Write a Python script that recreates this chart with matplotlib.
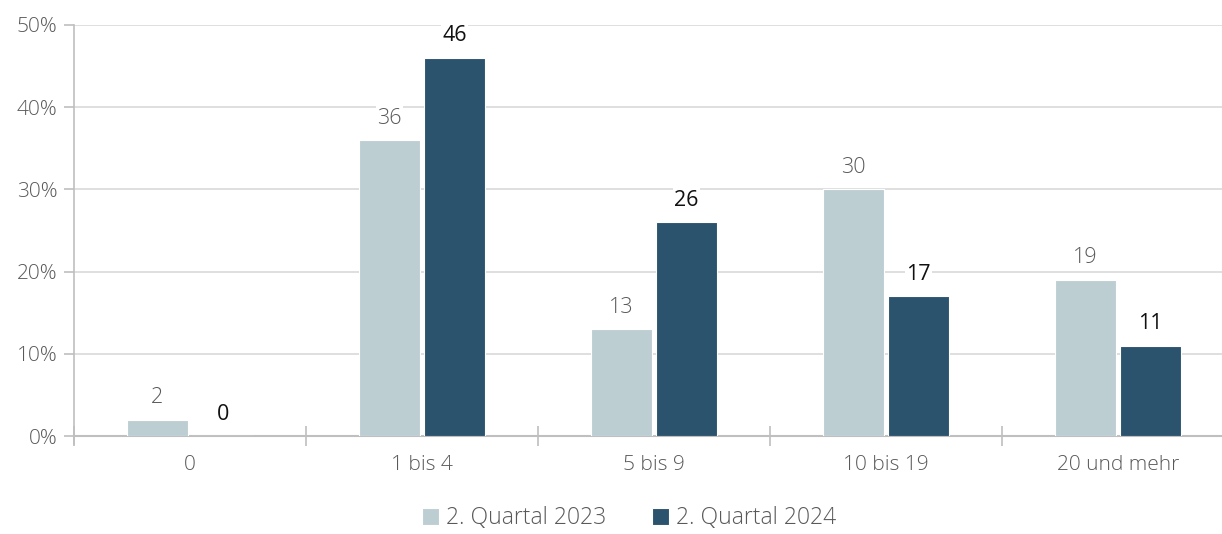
import matplotlib.pyplot as plt
import numpy as np

# data
categories = ["0", "1 bis 4", "5 bis 9", "10 bis 19", "20 und mehr"]
q2_2023 = [2, 36, 13, 30, 19]
q2_2024 = [0, 46, 26, 17, 11]
series_names = ["2. Quartal 2023", "2. Quartal 2024"]

c_light = "#BDCED3"
c_dark = "#2B536E"

plt.rcParams['font.family'] = ['Open Sans', 'DejaVu Sans']
plt.rcParams['font.weight'] = 'light'

fig = plt.figure(figsize=(12.22, 5.34), dpi=100)
ax = fig.add_axes([0.0606, 0.1835, 0.949, 0.7697])

x = np.arange(len(categories))
w = 0.263
off = 0.141
b1 = ax.bar(x - off, q2_2023, w, color=c_light, edgecolor="white", linewidth=0.8,
            label=series_names[0], zorder=3)
b2 = ax.bar(x + off, q2_2024, w, color=c_dark, edgecolor="white", linewidth=0.8,
            label=series_names[1], zorder=3)

for rect, v in zip(b1, q2_2023):
    ax.text(rect.get_x() + rect.get_width() / 2, v + 1.4, str(v), ha="center", va="bottom",
            fontsize=15.5, color="#595959", zorder=4,
            bbox=dict(facecolor="white", edgecolor="none", pad=1))
for rect, v in zip(b2, q2_2024):
    ax.text(rect.get_x() + rect.get_width() / 2, v + 1.4, str(v), ha="center", va="bottom",
            fontsize=15.5, color="#111111", fontweight="normal", zorder=4,
            bbox=dict(facecolor="white", edgecolor="none", pad=1))

ax.set_xlim(-0.5, len(categories) - 0.5)
ax.set_ylim(0, 50)
ax.set_yticks(np.arange(0, 51, 10))
ax.set_yticklabels([f"{t}%" for t in range(0, 51, 10)], fontsize=15, color="#595959")
ax.yaxis.grid(True, color="#D9D9D9", linewidth=1.2, zorder=0)
ax.tick_params(axis="y", length=7, color="#BFBFBF", width=1.2, pad=5)

ax.set_xticks(np.arange(len(categories) + 1) - 0.5, minor=False)
ax.set_xticklabels([])
ax.set_xticks(x, minor=True)
ax.set_xticklabels(categories, minor=True, fontsize=15, color="#595959")
ax.tick_params(axis="x", which="major", direction="inout", length=15, color="#BFBFBF", width=1.2)
ax.tick_params(axis="x", which="minor", length=0, pad=14)

for s in ["top", "right"]:
    ax.spines[s].set_visible(False)
ax.spines["left"].set_color("#BFBFBF")
ax.spines["bottom"].set_color("#BFBFBF")
ax.spines["left"].set_linewidth(1.2)
ax.spines["bottom"].set_linewidth(1.5)
ax.spines["left"].set_bounds(-1.0, 50)
ax.spines["left"].set_clip_on(False)

leg = fig.legend(handles=[b1, b2], labels=series_names, loc="lower center",
                 bbox_to_anchor=(0.515, -0.032), ncol=2, frameon=False, fontsize=16.5,
                 handlelength=0.75, handleheight=0.75, handletextpad=0.3, columnspacing=2.0)
for t in leg.get_texts():
    t.set_color("#595959")

fig.savefig("out.png", dpi=100)
